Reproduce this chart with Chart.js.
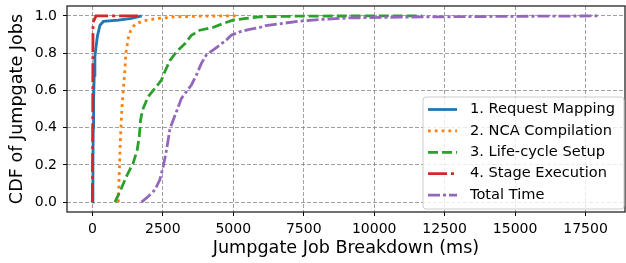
<!DOCTYPE html>
<html lang="en">
<head>
    <meta charset="UTF-8">
    <title>CDF of Jumpgate Jobs</title>
    <style>
        html, body { margin: 0; padding: 0; background: #fff; }
        #wrap { width: 626px; height: 263px; }
    </style>
</head>
<body>
    <div id="wrap"><canvas id="grafico" width="626" height="263"></canvas></div>

    <script src="https://cdn.jsdelivr.net/npm/chart.js"></script>
    <script>
        // values (ms, cumulative fraction)
        const mappingX = [10, 20, 30, 45, 65, 90, 120, 177, 270, 390, 920, 1390, 1750];
        const mappingY = [0, 0.2, 0.4, 0.55, 0.68, 0.78, 0.82, 0.89, 0.95, 0.97, 0.977, 0.986, 1.0];

        const compileX = [920, 955, 980, 1015, 1050, 1097, 1155, 1190, 1275, 1356, 1510, 1805, 2275, 2980, 4000, 5200];
        const compileY = [0, 0.155, 0.28, 0.405, 0.51, 0.60, 0.71, 0.80, 0.88, 0.92, 0.955, 0.973, 0.986, 0.995, 0.999, 1.0];

        const setupX = [800, 980, 1215, 1450, 1590, 1663, 1710, 1780, 1980, 2217, 2450, 2570, 2750, 2985, 3280, 3515, 3810, 4280, 4635, 4990, 5460, 5930, 7500, 11700];
        const setupY = [0, 0.057, 0.14, 0.21, 0.28, 0.35, 0.44, 0.495, 0.566, 0.61, 0.655, 0.70, 0.76, 0.807, 0.85, 0.896, 0.923, 0.9375, 0.959, 0.977, 0.986, 0.995, 0.999, 1.0];

        const stageX = [0, 12, 18, 25, 130, 1750];
        const stageY = [0, 0.4, 0.8, 0.965, 1.0, 1.0];

        const totalX = [1745, 1980, 2217, 2394, 2512, 2606, 2690, 2748, 2866, 3007, 3160, 3337, 3514, 3691, 3868, 4045, 4280, 4517, 4752, 4929, 5224, 5578, 5932, 6158, 7334, 8040, 9100, 10865, 13230, 15580, 18000];
        const totalY = [0, 0.03, 0.066, 0.12, 0.19, 0.26, 0.334, 0.39, 0.44, 0.495, 0.557, 0.593, 0.629, 0.682, 0.745, 0.79, 0.816, 0.843, 0.87, 0.896, 0.914, 0.927, 0.9375, 0.948, 0.971, 0.98, 0.989, 0.993, 0.996, 0.998, 1.0];

        const xTicks = [0, 2500, 5000, 7500, 10000, 12500, 15000, 17500];
        const yTicks = [0, 0.2, 0.4, 0.6, 0.8, 1.0];

        const font = 'DejaVu Sans';

        function punti(xs, ys) {
            return xs.map((x, i) => ({ x: x, y: ys[i] }));
        }

        function serie(label, xs, ys, colore, dash, ordine) {
            return {
                label: label,
                data: punti(xs, ys),
                borderColor: colore,
                backgroundColor: colore,
                borderWidth: 2.8,
                borderDash: dash,
                pointRadius: 0,
                tension: 0,
                fill: false,
                order: ordine
            };
        }

        // frame on all four sides, like matplotlib spines
        const cornice = {
            id: 'cornice',
            afterDatasetsDraw(chart) {
                const a = chart.chartArea;
                const ctx = chart.ctx;
                ctx.save();
                ctx.strokeStyle = '#262626';
                ctx.lineWidth = 1.3;
                ctx.strokeRect(a.left, a.top, a.right - a.left, a.bottom - a.top);
                ctx.restore();
            }
        };

        // legend box inside the plot, lower right
        const legenda = {
            id: 'legenda',
            afterDraw(chart) {
                const ctx = chart.ctx;
                const x0 = 423, y0 = 97, w = 201, h = 112, r = 3;
                ctx.save();
                ctx.beginPath();
                ctx.moveTo(x0 + r, y0);
                ctx.arcTo(x0 + w, y0, x0 + w, y0 + h, r);
                ctx.arcTo(x0 + w, y0 + h, x0, y0 + h, r);
                ctx.arcTo(x0, y0 + h, x0, y0, r);
                ctx.arcTo(x0, y0, x0 + w, y0, r);
                ctx.closePath();
                ctx.fillStyle = 'rgba(255,255,255,0.8)';
                ctx.fill();
                ctx.strokeStyle = '#cccccc';
                ctx.lineWidth = 1;
                ctx.stroke();
                chart.data.datasets.forEach((ds, i) => {
                    const y = 109.5 + i * 21.4;
                    ctx.beginPath();
                    ctx.setLineDash(ds.borderDash || []);
                    ctx.strokeStyle = ds.borderColor;
                    ctx.lineWidth = ds.borderWidth;
                    ctx.moveTo(428, y);
                    ctx.lineTo(457, y);
                    ctx.stroke();
                    ctx.setLineDash([]);
                    ctx.fillStyle = '#000';
                    ctx.font = '14.6px "' + font + '"';
                    ctx.textBaseline = 'middle';
                    ctx.textAlign = 'left';
                    ctx.fillText(ds.label, 470, y);
                });
                ctx.restore();
            }
        };

        const ctx = document.getElementById('grafico').getContext('2d');
        const grafico = new Chart(ctx, {
            type: 'line',
            data: {
                datasets: [
                    serie('1. Request Mapping', mappingX, mappingY, '#1f77b4', [], 5),
                    serie('2. NCA Compilation', compileX, compileY, '#ff7f0e', [2.8, 4], 4),
                    serie('3. Life-cycle Setup', setupX, setupY, '#2ca02c', [10, 4], 3),
                    serie('4. Stage Execution', stageX, stageY, '#d62728', [19, 4, 3, 4], 2),
                    serie('Total Time', totalX, totalY, '#9467bd', [12, 3, 3, 3], 1)
                ]
            },
            plugins: [cornice, legenda],
            options: {
                responsive: false,
                animation: false,
                layout: { padding: { top: 6, right: 1, left: 0, bottom: 0 } },
                plugins: {
                    legend: { display: false },
                    tooltip: { enabled: false }
                },
                scales: {
                    x: {
                        type: 'linear',
                        min: -900,
                        max: 18900,
                        afterBuildTicks: (s) => { s.ticks = xTicks.map(v => ({ value: v })); },
                        afterFit: (s) => { s.height = 51; s.paddingLeft = 0; s.paddingRight = 0; },
                        ticks: {
                            color: '#000',
                            padding: 4.5,
                            maxRotation: 0,
                            font: { family: font, size: 14 },
                            callback: (v) => String(v)
                        },
                        grid: {
                            color: 'rgba(128,128,128,0.75)',
                            lineWidth: 1,
                            tickLength: 4,
                            tickColor: '#000'
                        },
                        border: { display: false, dash: [4, 2] },
                        title: {
                            display: true,
                            text: 'Jumpgate Job Breakdown (ms)',
                            color: '#000',
                            font: { family: font, size: 17.6 },
                            padding: { top: 0, bottom: 4 }
                        }
                    },
                    y: {
                        type: 'linear',
                        min: -0.053,
                        max: 1.053,
                        afterBuildTicks: (s) => { s.ticks = yTicks.map(v => ({ value: v })); },
                        afterFit: (s) => { s.width = 67; s.paddingTop = 0; s.paddingBottom = 0; },
                        ticks: {
                            color: '#000',
                            padding: 6,
                            font: { family: font, size: 14 },
                            callback: (v) => v.toFixed(1)
                        },
                        grid: {
                            color: 'rgba(128,128,128,0.75)',
                            lineWidth: 1,
                            tickLength: 4,
                            tickColor: '#000'
                        },
                        border: { display: false, dash: [4, 2] },
                        title: {
                            display: true,
                            text: 'CDF of Jumpgate Jobs',
                            color: '#000',
                            font: { family: font, size: 17.6 },
                            padding: { top: 7, bottom: 0 }
                        }
                    }
                }
            }
        });
    </script>
</body>
</html>
